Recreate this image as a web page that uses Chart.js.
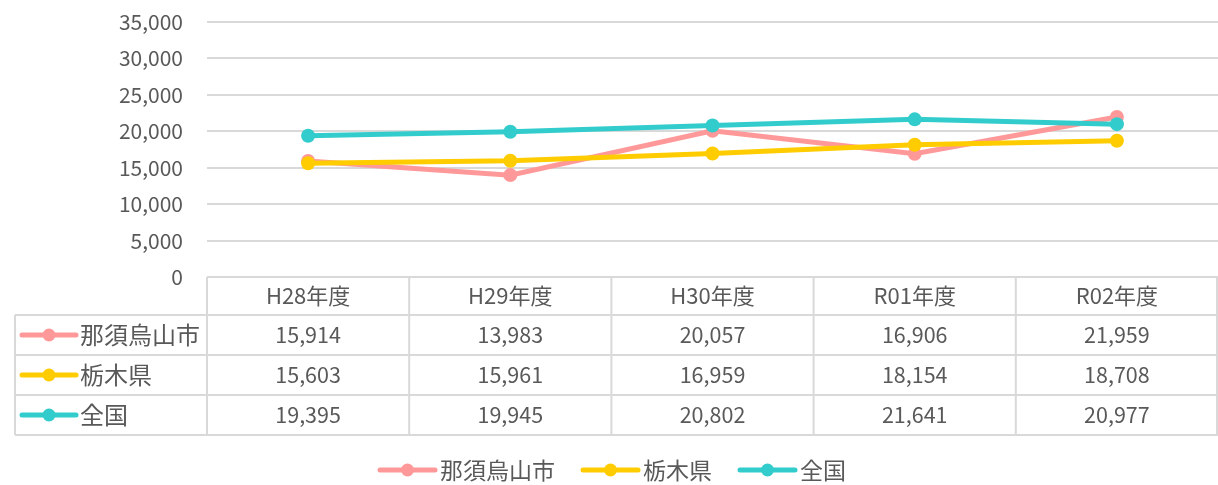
<!DOCTYPE html>
<html>
<head>
<meta charset="utf-8">
<script src="https://cdn.jsdelivr.net/npm/chart.js@4/dist/chart.umd.min.js"></script>
<style>
  html, body { margin: 0; padding: 0; background: #fff; }
  #graph1 { display: block; }
</style>
</head>
<body>
<canvas id="graph1" width="1218" height="485"></canvas>
<script>
var labels = ['H28年度', 'H29年度', 'H30年度', 'R01年度', 'R02年度'];
var seriesNames = ['那須烏山市', '栃木県', '全国'];
var nasukarasuyama = [15914, 13983, 20057, 16906, 21959];
var tochigi = [15603, 15961, 16959, 18154, 18708];
var zenkoku = [19395, 19945, 20802, 21641, 20977];
var colors = ['#FF9999', '#FFCC00', '#33CCCC'];

var FONT = '"Noto Sans CJK JP", "Noto Sans", sans-serif';
var TEXT = '#595959';
var LINE = '#d9d9d9';

function fmt(v) {
  return Number(v).toLocaleString('en-US');
}

// line + dot marker like the Excel legend key
function drawKey(ctx, x1, x2, y, color) {
  ctx.save();
  ctx.strokeStyle = color;
  ctx.lineWidth = 5;
  ctx.lineCap = 'round';
  ctx.beginPath();
  ctx.moveTo(x1, y);
  ctx.lineTo(x2, y);
  ctx.stroke();
  ctx.fillStyle = color;
  ctx.beginPath();
  ctx.arc((x1 + x2) / 2, y, 6.5, 0, Math.PI * 2);
  ctx.fill();
  ctx.restore();
}

var dataTable = {
  id: 'dataTable',
  afterDraw: function(chart) {
    var ctx = chart.ctx;
    var area = chart.chartArea;
    var xs = chart.scales.x;
    var rows = [nasukarasuyama, tochigi, zenkoku];
    var tableLeft = 15;
    var top = area.bottom;
    var headH = 38, rowH = 40;
    var bottom = top + headH + rowH * rows.length;
    var half = (area.right - area.left) / labels.length / 2;

    ctx.save();
    ctx.strokeStyle = LINE;
    ctx.lineWidth = 2;
    ctx.beginPath();
    ctx.moveTo(area.left, top);
    ctx.lineTo(area.right, top);
    for (var r = 0; r <= rows.length; r++) {
      var y = top + headH + rowH * r;
      ctx.moveTo(tableLeft, y);
      ctx.lineTo(area.right, y);
    }
    ctx.moveTo(tableLeft, top + headH);
    ctx.lineTo(tableLeft, bottom);
    ctx.moveTo(area.left, top);
    ctx.lineTo(area.left, bottom);
    for (var i = 0; i < labels.length; i++) {
      var bx = Math.min(xs.getPixelForValue(i) + half, area.right - 1);
      ctx.moveTo(bx, top);
      ctx.lineTo(bx, bottom);
    }
    ctx.stroke();

    ctx.fillStyle = TEXT;
    ctx.textAlign = 'center';
    ctx.textBaseline = 'middle';
    ctx.font = '22px ' + FONT;
    labels.forEach(function(lab, i) {
      ctx.fillText(lab, xs.getPixelForValue(i), top + headH / 2);
    });
    ctx.font = '21.5px ' + FONT;
    rows.forEach(function(vals, r) {
      var cy = top + headH + rowH * r + rowH / 2;
      vals.forEach(function(v, i) {
        ctx.fillText(fmt(v), xs.getPixelForValue(i), cy);
      });
    });

    ctx.textAlign = 'left';
    ctx.font = '24px ' + FONT;
    seriesNames.forEach(function(name, r) {
      var cy = top + headH + rowH * r + rowH / 2;
      drawKey(ctx, 22, 76, cy, colors[r]);
      ctx.fillStyle = TEXT;
      ctx.fillText(name, 80, cy);
    });

    // legend under the table
    ctx.font = '23px ' + FONT;
    var gap = 28, keyW = 55, textGap = 5;
    var widths = seriesNames.map(function(n) { return keyW + textGap + ctx.measureText(n).width; });
    var total = widths.reduce(function(a, b) { return a + b; }, 0) + gap * (widths.length - 1);
    var lx = 613 - total / 2;
    var ly = 470;
    seriesNames.forEach(function(name, r) {
      drawKey(ctx, lx, lx + keyW, ly, colors[r]);
      ctx.fillStyle = TEXT;
      ctx.fillText(name, lx + keyW + textGap, ly);
      lx += widths[r] + gap;
    });
    ctx.restore();
  }
};

document.addEventListener('DOMContentLoaded', function() {
  var ctx = document.querySelector('#graph1').getContext('2d');
  var all = [nasukarasuyama, tochigi, zenkoku];
  var chart = new Chart(ctx, {
    type: 'line',
    data: {
      labels: labels,
      datasets: all.map(function(vals, i) {
        return {
          label: seriesNames[i],
          data: vals,
          borderColor: colors[i],
          backgroundColor: colors[i],
          borderWidth: 5,
          pointRadius: 7,
          pointHoverRadius: 7,
          pointBorderWidth: 0,
          tension: 0,
          order: 3 - i
        };
      })
    },
    options: {
      responsive: false,
      animation: false,
      layout: { autoPadding: false, padding: { left: 0, right: 0, top: 22, bottom: 208 } },
      plugins: {
        legend: { display: false },
        tooltip: { enabled: false }
      },
      scales: {
        x: {
          display: false,
          offset: true
        },
        y: {
          min: 0,
          max: 35000,
          border: { display: false },
          grid: { color: LINE, lineWidth: 2, drawTicks: false },
          ticks: {
            stepSize: 5000,
            padding: 24,
            color: TEXT,
            font: { family: FONT, size: 21 },
            callback: function(v) { return fmt(v); }
          },
          afterFit: function(scale) {
            scale.width = 207;
            scale.paddingTop = 0;
            scale.paddingBottom = 0;
          }
        }
      }
    },
    plugins: [dataTable]
  });
});
</script>
</body>
</html>
